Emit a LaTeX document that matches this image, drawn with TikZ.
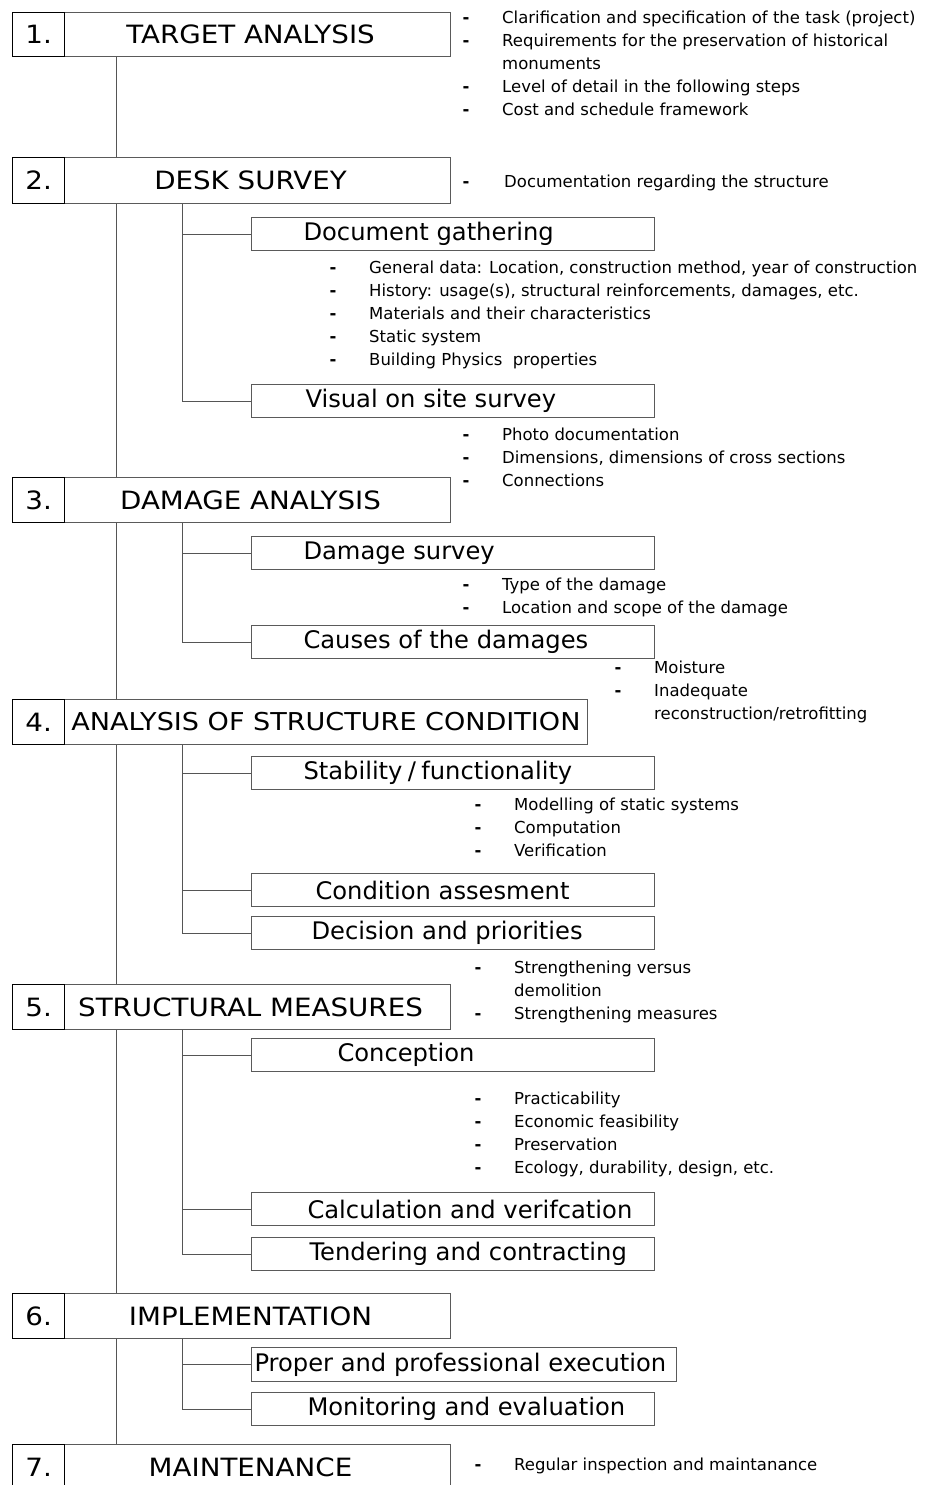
\documentclass[tikz,border=0pt]{standalone}
\usepackage{fontspec}
\setmainfont{DejaVu Sans}
\newfontfamily\boxfont[FakeStretch=1.1]{DejaVu Sans}
\definecolor{framegray}{HTML}{5A5A5A}
\definecolor{linkgray}{HTML}{555555}

% text set inside a box of fixed width, starting at a given indent
\newcommand\boxtxt[3]{\makebox[#1][l]{\hspace*{#2}#3}}
% one entry of a dashed list, and a continuation line of an entry
\newcommand\listdash[1]{\makebox[40pt][l]{\hspace*{0.5pt}\textbf{-}}#1}
\newcommand\listcont[1]{\hspace*{40pt}#1}

\tikzset{
  numcell/.style={draw=black, line width=1.2pt, minimum width=52pt, inner sep=0pt,
    anchor=north west, font=\boxfont\fontsize{25.2}{30}\selectfont},
  titlecell/.style={draw=framegray, line width=1pt, minimum width=386pt, inner sep=0pt,
    anchor=north west, font=\boxfont\fontsize{25.2}{30}\selectfont},
  subbox/.style={draw=framegray, line width=1pt, minimum height=33pt, inner sep=0pt,
    anchor=north west, font=\fontsize{24.2}{28}\selectfont},
  notes/.style={anchor=base west, inner sep=0pt, font=\fontsize{16.5}{23}\selectfont},
  link/.style={draw=linkgray, line width=1pt}
}

\begin{document}
\begin{tikzpicture}[x=1pt, y=-1pt]
\useasboundingbox (0,0) rectangle (926,1485);
\clip (0,0) rectangle (926,1485);
\fill[white] (0,0) rectangle (926,1485);

% x positions of the main trunk and of the branch lines
\coordinate (tx) at (116,0);
\coordinate (bx) at (182,0);

% ---------- main steps ----------
\node[titlecell, minimum height=44pt] (t1) at (64,12)   {\hspace*{-14pt}TARGET ANALYSIS};
\node[numcell,   minimum height=44pt] (n1) at (12,12)   {1.};
\node[titlecell, minimum height=46pt] (t2) at (64,157)  {\hspace*{-14pt}DESK SURVEY};
\node[numcell,   minimum height=46pt] (n2) at (12,157)  {2.};
\node[titlecell, minimum height=45pt] (t3) at (64,477)  {\hspace*{-14pt}DAMAGE ANALYSIS};
\node[numcell,   minimum height=45pt] (n3) at (12,477)  {3.};
\node[titlecell, minimum height=45pt, minimum width=523pt,
      font=\boxfont\fontsize{24.6}{30}\selectfont] (t4) at (64,699) {ANALYSIS OF STRUCTURE CONDITION};
\node[numcell,   minimum height=45pt] (n4) at (12,699)  {4.};
\node[titlecell, minimum height=45pt] (t5) at (64,984)  {\hspace*{-14pt}STRUCTURAL MEASURES};
\node[numcell,   minimum height=45pt] (n5) at (12,984)  {5.};
\node[titlecell, minimum height=45pt] (t6) at (64,1293) {\hspace*{-14pt}IMPLEMENTATION};
\node[numcell,   minimum height=45pt] (n6) at (12,1293) {6.};
\node[titlecell, minimum height=45pt] (t7) at (64,1444) {\hspace*{-14pt}MAINTENANCE};
\node[numcell,   minimum height=45pt] (n7) at (12,1444) {7.};

% ---------- sub steps ----------
\node[subbox] (dg) at (251,217)  {\boxtxt{403pt}{52pt}{Document gathering}};
\node[subbox] (vs) at (251,384)  {\boxtxt{403pt}{54pt}{Visual on site survey}};
\node[subbox] (ds) at (251,536)  {\boxtxt{403pt}{52pt}{Damage survey}};
\node[subbox] (cd) at (251,625)  {\boxtxt{403pt}{52pt}{Causes of the damages}};
\node[subbox] (sf) at (251,756)  {\boxtxt{403pt}{52pt}{Stability\hspace{0.22em}/\hspace{0.22em}functionality}};
\node[subbox] (ca) at (251,873)  {\boxtxt{403pt}{64pt}{Condition assesment}};
\node[subbox] (dp) at (251,916)  {\boxtxt{403pt}{60pt}{Decision and priorities}};
\node[subbox] (co) at (251,1038) {\boxtxt{403pt}{86pt}{Conception}};
\node[subbox] (cv) at (251,1192) {\boxtxt{403pt}{56pt}{Calculation and verifcation}};
\node[subbox] (tc) at (251,1237) {\boxtxt{403pt}{58pt}{Tendering and contracting}};
\node[subbox, minimum height=34pt] (pe) at (251,1347) {\boxtxt{425pt}{3pt}{Proper and professional execution}};
\node[subbox] (me) at (251,1392) {\boxtxt{403pt}{56pt}{Monitoring and evaluation}};

% ---------- trunk ----------
\draw[link] (t1.south -| tx) -- (t2.north -| tx);
\draw[link] (t2.south -| tx) -- (t3.north -| tx);
\draw[link] (t3.south -| tx) -- (t4.north -| tx);
\draw[link] (t4.south -| tx) -- (t5.north -| tx);
\draw[link] (t5.south -| tx) -- (t6.north -| tx);
\draw[link] (t6.south -| tx) -- (t7.north -| tx);

% ---------- branches ----------
\draw[link] (t2.south -| bx) |- (dg.west);
\draw[link] (t2.south -| bx) |- (vs.west);
\draw[link] (t3.south -| bx) |- (ds.west);
\draw[link] (t3.south -| bx) |- (cd.west);
\draw[link] (t4.south -| bx) |- (sf.west);
\draw[link] (t4.south -| bx) |- (ca.west);
\draw[link] (t4.south -| bx) |- (dp.west);
\draw[link] (t5.south -| bx) |- (co.west);
\draw[link] (t5.south -| bx) |- (cv.west);
\draw[link] (t5.south -| bx) |- (tc.west);
\draw[link] (t6.south -| bx) |- (pe.west);
\draw[link] (t6.south -| bx) |- (me.west);

% ---------- notes ----------
\node[notes] (l1) at (462,24) {\begin{tabular}[t]{@{}l@{}}
  \listdash{Clarification and specification of the task (project)}\\
  \listdash{Requirements for the preservation of historical}\\
  \listcont{monuments}\\
  \listdash{Level of detail in the following steps}\\
  \listdash{Cost and schedule framework}
\end{tabular}};
\node[notes] (l2) at (462,187) {\begin{tabular}[t]{@{}l@{}}
  \listdash{\hspace*{2pt}Documentation regarding the structure}
\end{tabular}};
\node[notes] (l3) at (329,273) {\begin{tabular}[t]{@{}l@{}}
  \listdash{General data: Location, construction method, year of construction}\\
  \listdash{History: usage(s), structural reinforcements, damages, etc.}\\
  \listdash{Materials and their characteristics}\\
  \listdash{Static system}\\
  \listdash{Building Physics\ \ properties}
\end{tabular}};
\node[notes] (l4) at (462,440) {\begin{tabular}[t]{@{}l@{}}
  \listdash{Photo documentation}\\
  \listdash{Dimensions, dimensions of cross sections}\\
  \listdash{Connections}
\end{tabular}};
\node[notes] (l5) at (462,590) {\begin{tabular}[t]{@{}l@{}}
  \listdash{Type of the damage}\\
  \listdash{Location and scope of the damage}
\end{tabular}};
\node[notes] (l6) at (614,673) {\begin{tabular}[t]{@{}l@{}}
  \listdash{Moisture}\\
  \listdash{Inadequate}\\
  \listcont{reconstruction/retrofitting}
\end{tabular}};
\node[notes] (l7) at (474,810) {\begin{tabular}[t]{@{}l@{}}
  \listdash{Modelling of static systems}\\
  \listdash{Computation}\\
  \listdash{Verification}
\end{tabular}};
\node[notes] (l8) at (474,973) {\begin{tabular}[t]{@{}l@{}}
  \listdash{Strengthening versus}\\
  \listcont{demolition}\\
  \listdash{Strengthening measures}
\end{tabular}};
\node[notes] (l9) at (474,1104) {\begin{tabular}[t]{@{}l@{}}
  \listdash{Practicability}\\
  \listdash{Economic feasibility}\\
  \listdash{Preservation}\\
  \listdash{Ecology, durability, design, etc.}
\end{tabular}};
\node[notes] (l10) at (474,1470) {\begin{tabular}[t]{@{}l@{}}
  \listdash{Regular inspection and maintanance}
\end{tabular}};
\end{tikzpicture}
\end{document}
